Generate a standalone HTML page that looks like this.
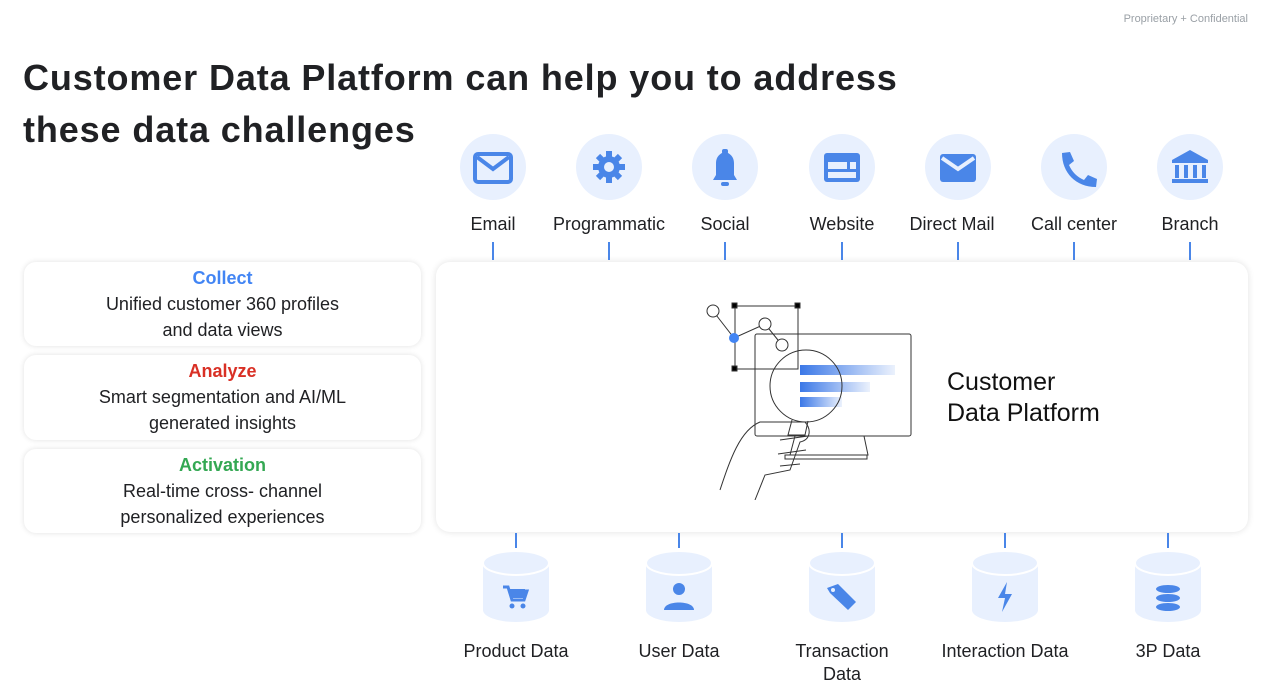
<!DOCTYPE html>
<html><head><meta charset="utf-8"><style>
body{margin:0;width:1275px;height:687px;background:#fff;position:relative;overflow:hidden;font-family:"Liberation Sans",sans-serif;color:#202124}
.a{position:absolute}
.t{font-weight:bold;font-size:36px;left:23px;line-height:52px;top:52px;letter-spacing:0.88px}
.card{position:absolute;left:24px;width:397px;background:#fff;border-radius:12px;box-shadow:0 0 6px rgba(0,0,0,.12);text-align:center;font-size:18px;line-height:26px}
.card b{display:block;font-size:18px}
.circ{position:absolute;width:66px;height:66px;border-radius:50%;background:#e8f0fe;top:134px}
.lbl{position:absolute;font-size:18px;text-align:center;width:140px}
.ln{position:absolute;width:2px;background:#4a86e8}
</style></head><body>
<div class="a" style="right:27px;top:13px;font-size:11px;color:#9aa0a6">Proprietary + Confidential</div>
<div class="a t">Customer Data Platform can help you to address<br>these data challenges</div>

<div class="card" style="top:262px;height:84px"><b style="color:#4285f4;margin-top:3px">Collect</b>Unified customer 360 profiles<br>and data views</div>
<div class="card" style="top:355px;height:85px"><b style="color:#d93025;margin-top:3px">Analyze</b>Smart segmentation and AI/ML<br>generated insights</div>
<div class="card" style="top:449px;height:84px"><b style="color:#34a853;margin-top:3px">Activation</b>Real-time cross- channel<br>personalized experiences</div>

<div class="a" style="left:436px;top:262px;width:812px;height:270px;border-radius:14px;box-shadow:0 0 7px rgba(0,0,0,.12);background:#fff"></div>
<div class="a" style="left:947px;top:367px;font-size:25px;line-height:31px;color:#111">Customer<br>Data Platform</div>

<svg class="a" style="left:680px;top:290px" width="250" height="210" viewBox="0 0 250 210" fill="none" stroke="#333" stroke-width="1">
<rect x="75" y="44" width="156" height="102" rx="2"/>
<path d="M115 146 L110 165 L188 165 L184 146"/><rect x="105" y="165" width="82" height="4"/>
<rect x="55" y="16" width="63" height="63"/>
<rect x="52" y="13" width="5" height="5" fill="#000"/><rect x="115" y="13" width="5" height="5" fill="#000"/><rect x="52" y="76" width="5" height="5" fill="#000"/>
<path d="M33 21 L54 48 L85 34 L102 55"/>
<circle cx="33" cy="21" r="6" fill="#fff"/><circle cx="85" cy="34" r="6" fill="#fff"/><circle cx="102" cy="55" r="6" fill="#fff"/>
<circle cx="54" cy="48" r="5" fill="#4285f4" stroke="none"/>
<defs><linearGradient id="g"><stop offset="0" stop-color="#3b78e7"/><stop offset="1" stop-color="#3b78e7" stop-opacity="0.1"/></linearGradient></defs>
<rect x="120" y="75" width="95" height="10" fill="url(#g)" stroke="none"/>
<rect x="120" y="92" width="70" height="10" fill="url(#g)" stroke="none"/>
<rect x="120" y="107" width="42" height="10" fill="url(#g)" stroke="none"/>
<circle cx="126" cy="96" r="36"/>
<path d="M112 130 L108 145 L125 145 L128 131"/>
<path d="M40 200 C50 170 60 140 80 132 L125 132 C132 140 130 150 120 152 L110 180 L85 185 L75 210"/>
<path d="M100 150 L128 146 M98 164 L126 160 M100 176 L120 174"/>
</svg>

<div class="circ" style="left:460px"></div><div class="circ" style="left:576px"></div><div class="circ" style="left:692px"></div><div class="circ" style="left:809px"></div><div class="circ" style="left:925px"></div><div class="circ" style="left:1041px"></div><div class="circ" style="left:1157px"></div>
<svg class="a" style="left:0;top:0" width="1275" height="687" fill="#4a86e8">
<rect x="475" y="154" width="36" height="28" rx="3" fill="none" stroke="#4a86e8" stroke-width="4"/><path d="M477 157 L493 169 L509 157" fill="none" stroke="#4a86e8" stroke-width="4"/>
<circle cx="609" cy="167" r="11"/><g stroke="#4a86e8" stroke-width="6"><path d="M609 151v32M593 167h32M598 156l22 22M620 156l-22 22"/></g><circle cx="609" cy="167" r="5" fill="#e8f0fe"/>
<path d="M713 180 L737 180 L734 175 L734 163 C734 157 730 153 725 152 C720 153 716 157 716 163 L716 175 Z"/><rect x="721" y="182" width="8" height="4" rx="2"/><rect x="722" y="149" width="6" height="5" rx="2"/>
<rect x="824" y="153" width="36" height="29" rx="3"/><g fill="#e8f0fe"><rect x="828" y="162" width="19" height="7"/><rect x="828" y="172" width="28" height="6"/><rect x="850" y="162" width="6" height="7"/></g>
<rect x="940" y="154" width="36" height="28" rx="3"/><path d="M942 158 L958 169 L974 158" fill="none" stroke="#e8f0fe" stroke-width="4"/>
<path d="M1062 153 l8 -1 l4 9 l-5 4 c3 7 8 12 15 15 l4 -5 l9 4 l-1 8 c-20 0 -34 -14 -34 -34z"/>
<path d="M1190 150 L1208 160 L1172 160 Z"/><rect x="1172" y="160" width="36" height="3"/><rect x="1175" y="165" width="4" height="13"/><rect x="1184" y="165" width="4" height="13"/><rect x="1193" y="165" width="4" height="13"/><rect x="1202" y="165" width="4" height="13"/><rect x="1172" y="179" width="36" height="4"/>
</svg>
<div class="lbl" style="left:423px;top:214px">Email</div>
<div class="lbl" style="left:539px;top:214px">Programmatic</div>
<div class="lbl" style="left:655px;top:214px">Social</div>
<div class="lbl" style="left:772px;top:214px">Website</div>
<div class="lbl" style="left:882px;top:214px">Direct Mail</div>
<div class="lbl" style="left:1004px;top:214px">Call center</div>
<div class="lbl" style="left:1120px;top:214px">Branch</div>
<div class="ln" style="left:492px;top:242px;height:18px"></div><div class="ln" style="left:608px;top:242px;height:18px"></div><div class="ln" style="left:724px;top:242px;height:18px"></div><div class="ln" style="left:841px;top:242px;height:18px"></div><div class="ln" style="left:957px;top:242px;height:18px"></div><div class="ln" style="left:1073px;top:242px;height:18px"></div><div class="ln" style="left:1189px;top:242px;height:18px"></div>

<svg class="a" style="left:0;top:0" width="1275" height="687">
<g id="cy">
<path d="M483 563 L483 610 A33 12 0 0 0 549 610 L549 563 Z" fill="#e8f0fe"/>
<ellipse cx="516" cy="563" rx="33" ry="12" fill="#e8f0fe" stroke="#fff" stroke-width="2"/>
</g>
<use href="#cy" x="163"/><use href="#cy" x="326"/><use href="#cy" x="489"/><use href="#cy" x="652"/>
<g fill="#4a86e8">
<path d="M503 587 h5 l4 13 h12 l3 -9 h-17" stroke="#4a86e8" stroke-width="3" fill="none"/><rect x="510" y="589" width="15" height="9"/><circle cx="512" cy="606" r="2.5"/><circle cx="523" cy="606" r="2.5"/>
<circle cx="679" cy="589" r="6"/><path d="M664 610 C664 600 694 600 694 610 Z"/>
<path d="M827 588 L838 584 L856 602 L848 610 L830 593 Z"/><circle cx="833" cy="590" r="2" fill="#e8f0fe"/>
<path d="M1007 582 L998 598 L1005 598 L1002 612 L1012 594 L1005 594 Z"/>
<ellipse cx="1168" cy="589" rx="12" ry="4"/><ellipse cx="1168" cy="598" rx="12" ry="4"/><ellipse cx="1168" cy="607" rx="12" ry="4"/>
</g>
</svg>
<div class="ln" style="left:515px;top:533px;height:15px"></div><div class="ln" style="left:678px;top:533px;height:15px"></div><div class="ln" style="left:841px;top:533px;height:15px"></div><div class="ln" style="left:1004px;top:533px;height:15px"></div><div class="ln" style="left:1167px;top:533px;height:15px"></div>
<div class="lbl" style="left:446px;top:641px">Product Data</div>
<div class="lbl" style="left:609px;top:641px">User Data</div>
<div class="lbl" style="left:772px;top:640px;line-height:23px">Transaction<br>Data</div>
<div class="lbl" style="left:925px;top:641px;width:160px">Interaction Data</div>
<div class="lbl" style="left:1098px;top:641px">3P Data</div>
</body></html>
